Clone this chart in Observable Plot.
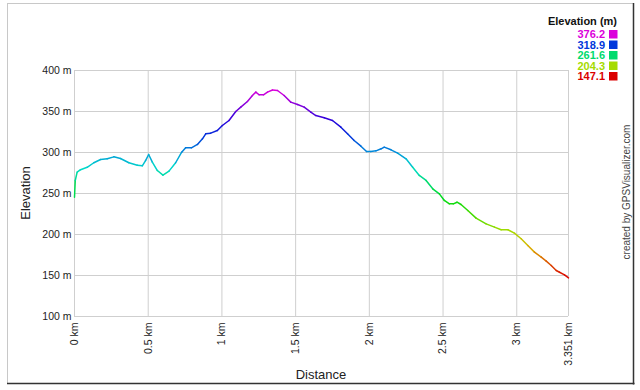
<!DOCTYPE html>
<html><head><meta charset="utf-8">
<script src="https://cdn.jsdelivr.net/npm/d3@7"></script>
<script src="https://cdn.jsdelivr.net/npm/@observablehq/plot@0.6"></script>
<style>body{margin:0;background:#fff;} svg{display:block}</style>
</head><body><div id="chart"></div>
<script>
const distKm = [0, 0.005, 0.018, 0.041, 0.086, 0.131, 0.177, 0.222, 0.267, 0.312, 0.369, 0.426, 0.46, 0.482, 0.503, 0.528, 0.562, 0.6, 0.641, 0.686, 0.727, 0.754, 0.793, 0.834, 0.868, 0.89, 0.924, 0.969, 1.003, 1.048, 1.094, 1.128, 1.173, 1.207, 1.23, 1.252, 1.282, 1.309, 1.343, 1.377, 1.422, 1.467, 1.513, 1.558, 1.603, 1.637, 1.694, 1.75, 1.807, 1.852, 1.897, 1.943, 1.981, 2.01, 2.045, 2.08, 2.101, 2.147, 2.192, 2.249, 2.294, 2.339, 2.385, 2.43, 2.475, 2.509, 2.543, 2.57, 2.595, 2.622, 2.668, 2.724, 2.792, 2.849, 2.894, 2.94, 2.984, 3.03, 3.075, 3.12, 3.166, 3.2, 3.234, 3.268, 3.29, 3.324, 3.351];
const elevM = [245.5, 265.9, 276, 279, 282, 287.5, 291.5, 292.3, 294.7, 292.7, 287.5, 284.5, 283.8, 290.2, 297.6, 288.2, 278, 272.4, 277.3, 287.5, 300.4, 305.7, 305.7, 309.8, 316.7, 322.8, 323.6, 326.8, 332.9, 339, 350, 355.3, 362.2, 369.5, 373.6, 370.4, 370.4, 373.6, 376.2, 375.6, 369.5, 361.4, 358.5, 355.3, 349.2, 345.1, 342.3, 339, 330.9, 322.8, 314.6, 307.7, 301.2, 301.2, 302, 304.5, 306.5, 303.3, 299.2, 292.3, 282.1, 272, 265.9, 255.7, 249.6, 241.5, 237.4, 237.4, 239.4, 236.6, 229.3, 220, 213, 209, 205.8, 205.8, 201.6, 194.8, 186.6, 178.5, 172.4, 167.5, 162.2, 156.1, 154, 150.8, 147.1];
const xTicks = [0, 0.5, 1, 1.5, 2, 2.5, 3, 3.351];
const xTickLabels = ["0 km", "0.5 km", "1 km", "1.5 km", "2 km", "2.5 km", "3 km", "3.351 km"];
const yTicks = [100, 150, 200, 250, 300, 350, 400];
const legendValues = [376.2, 318.9, 261.6, 204.3, 147.1];
const legendTitle = "Elevation (m)";
const xLabel = "Distance";
const yLabel = "Elevation";
const credit = "created by GPSVisualizer.com";

const eMin = d3.min(elevM), eMax = d3.max(elevM);
const hueOf = v => d3.hsl(300 * (v - eMin) / (eMax - eMin), 1, 0.43).formatHex();
const stops = d3.range(0, 13).map(i => eMin + (eMax - eMin) * i / 12);
const segs = d3.pairs(d3.range(distKm.length)).map(([i, j]) => ({
  x1: distKm[i], y1: elevM[i], x2: distKm[j], y2: elevM[j], e: (elevM[i] + elevM[j]) / 2
}));

const font = "'Liberation Sans', Arial, sans-serif";
const plot = Plot.plot({
  width: 640, height: 390,
  marginLeft: 74, marginRight: 72, marginTop: 70, marginBottom: 74,
  style: {fontFamily: font, fontSize: "10.5px", color: "#222", background: "#fff", overflow: "visible"},
  x: {domain: [0, 3.351]},
  y: {domain: [100, 400]},
  color: {type: "linear", domain: stops, range: stops.map(hueOf)},
  marks: [
    Plot.gridX(xTicks, {stroke: "#cfcfcf", strokeOpacity: 1}),
    Plot.gridY(yTicks, {stroke: "#cfcfcf", strokeOpacity: 1}),
    Plot.axisX(xTicks, {tickRotate: -90, tickSize: 0, tickPadding: 6, tickFormat: d => xTickLabels[xTicks.indexOf(d)], label: null}),
    Plot.axisY(yTicks, {tickSize: 0, tickPadding: 3, tickFormat: d => d + " m", label: null}),
    Plot.link(segs, {x1: "x1", y1: "y1", x2: "x2", y2: "y2", stroke: "e", strokeWidth: 1.5, strokeLinecap: "round"})
  ]
});

const svg = d3.select(plot);
// outer frame
svg.append("rect").attr("x", 7.5).attr("y", 3.5).attr("width", 626).attr("height", 380)
  .attr("fill", "none").attr("stroke", "#c8c8c8");
svg.append("line").attr("x1", 633.5).attr("x2", 633.5).attr("y1", 3).attr("y2", 384.5).attr("stroke", "#333").attr("stroke-width", 1.5);
svg.append("line").attr("x1", 7).attr("x2", 634.5).attr("y1", 383.5).attr("y2", 383.5).attr("stroke", "#333").attr("stroke-width", 1.5);

// axis titles
svg.append("text").attr("x", 321).attr("y", 379).attr("text-anchor", "middle")
  .attr("font-family", font).attr("font-size", 13).attr("fill", "#222").text(xLabel);
svg.append("text").attr("transform", "translate(30,193) rotate(-90)").attr("text-anchor", "middle")
  .attr("font-family", font).attr("font-size", 13).attr("fill", "#222").text(yLabel);

// credit
svg.append("text").attr("transform", "translate(630,192) rotate(-90)").attr("text-anchor", "middle")
  .attr("font-family", font).attr("font-size", 10).attr("fill", "#444").text(credit);

// legend
const lg = svg.append("g").attr("font-family", font).attr("font-size", 11).attr("font-weight", "bold");
lg.append("text").attr("x", 617).attr("y", 25).attr("text-anchor", "end").attr("fill", "#111").text(legendTitle);
legendValues.forEach((v, i) => {
  const yb = 38 + i * 10.5;
  lg.append("text").attr("x", 605).attr("y", yb).attr("text-anchor", "end").attr("fill", hueOf(v)).text(v.toFixed(1));
  lg.append("rect").attr("x", 609).attr("y", yb - 8).attr("width", 8.5).attr("height", 8.5).attr("fill", hueOf(v));
});

document.getElementById("chart").appendChild(plot);
</script>
</body></html>
